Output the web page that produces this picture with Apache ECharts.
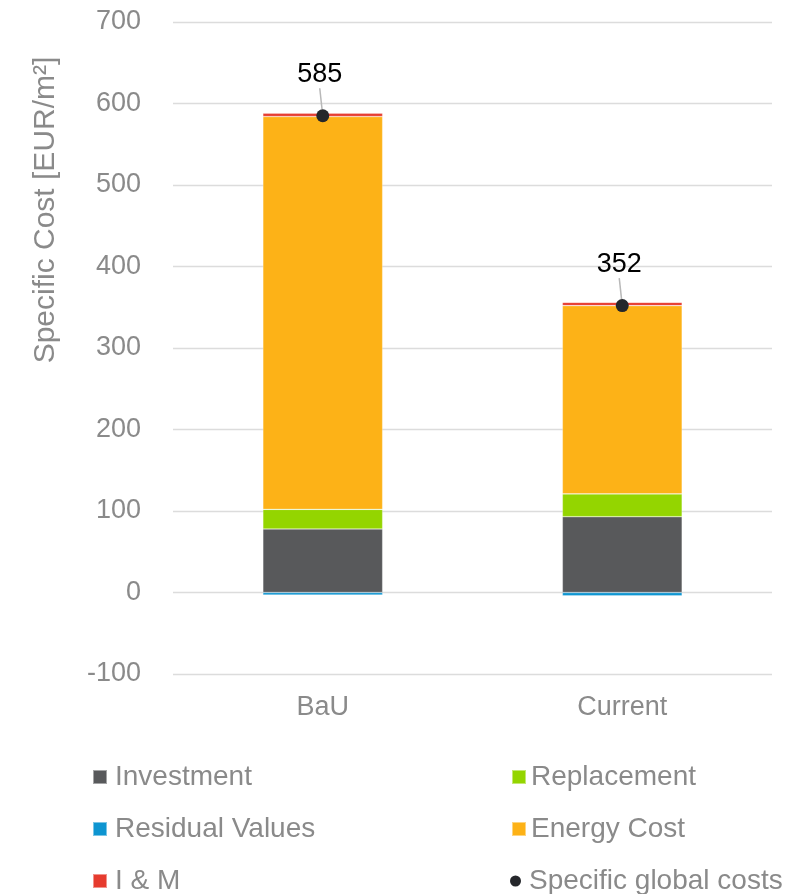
<!DOCTYPE html>
<html>
<head>
<meta charset="utf-8">
<script src="https://cdn.jsdelivr.net/npm/echarts@6/dist/echarts.min.js"></script>
<style>
html,body{margin:0;padding:0;background:#fff;}
#chart{width:799px;height:894px;}
</style>
</head>
<body>
<div id="chart"></div>
<script>
const categories = ['BaU', 'Current'];
const investment = [78, 93];
const replacement = [24, 28];
const residualValues = [-3, -4];
const energyCost = [482, 231];
const iAndM = [4, 4];
const globalCosts = [585, 352];
const yTicks = { min: -100, max: 700, interval: 100 };

const FONT = '"Liberation Sans", Arial, sans-serif';
const GRAY = '#8a8a8a';

const chart = echarts.init(document.getElementById('chart'));
function barSeries(name, data, color) {
  return {
    name: name, type: 'bar', stack: 'total', data: data, barWidth: '40%',
    itemStyle: { color: color, borderColor: 'rgba(255,255,255,0.45)', borderWidth: 0.6 },
    emphasis: { disabled: true }
  };
}
const legendText = { color: GRAY, fontSize: 28, fontFamily: FONT, lineHeight: 28, padding: [0, 0, 0, 3] };
const legendBase = { orient: 'vertical', itemWidth: 14, itemHeight: 14, itemGap: 24, padding: 0, icon: 'rect',
  textStyle: legendText, selectedMode: false, height: 140 };
chart.setOption({
  animation: false,
  grid: { left: 173, right: 27, top: 22, bottom: 220, containLabel: false },
  xAxis: {
    type: 'category', data: categories,
    axisLine: { show: false, onZero: false }, axisTick: { show: false },
    axisLabel: { color: GRAY, fontSize: 27, fontFamily: FONT, margin: 20 }
  },
  yAxis: {
    type: 'value', min: yTicks.min, max: yTicks.max, interval: yTicks.interval,
    axisLine: { show: false }, axisTick: { show: false },
    axisLabel: { color: GRAY, fontSize: 27, fontFamily: FONT, margin: 32 },
    splitLine: { lineStyle: { color: '#dcdcdc', width: 1.3 } }
  },
  legend: [
    Object.assign({}, legendBase, { left: 92, top: 763, data: ['Investment', 'Residual Values', 'I & M'] }),
    Object.assign({}, legendBase, { left: 511, top: 763, data: ['Replacement', 'Energy Cost'],
      textStyle: Object.assign({}, legendText, { padding: 0 }) }),
    Object.assign({}, legendBase, { left: 510, top: 867, itemWidth: 11, itemHeight: 11, icon: 'circle',
      data: ['Specific global costs'], textStyle: Object.assign({}, legendText, { padding: [0, 0, 0, 3] }) })
  ],
  graphic: [{
    type: 'text', x: 46, y: 210, rotation: Math.PI / 2,
    style: { text: 'Specific Cost [EUR/m²]', fill: GRAY, font: '30px ' + FONT, align: 'center', verticalAlign: 'middle' }
  }],
  series: [
    barSeries('Investment', investment, '#58595b'),
    barSeries('Replacement', replacement, '#94d500'),
    barSeries('Residual Values', residualValues, '#0e95d1'),
    barSeries('Energy Cost', energyCost, '#fdb217'),
    barSeries('I & M', iAndM, '#e63b2e'),
    {
      name: 'Specific global costs', type: 'scatter', data: globalCosts, symbol: 'circle', symbolSize: 13,
      itemStyle: { color: '#25272b', opacity: 1 },
      label: { show: true, position: 'top', distance: 5, formatter: '{c}', color: '#000', fontSize: 27, fontFamily: FONT },
      labelLayout: { dx: -3, dy: -16 },
      labelLine: { show: true, length2: 0, lineStyle: { color: '#b8b8b8', width: 1.5 } },
      emphasis: { disabled: true },
      z: 10
    }
  ]
});
</script>
</body>
</html>
